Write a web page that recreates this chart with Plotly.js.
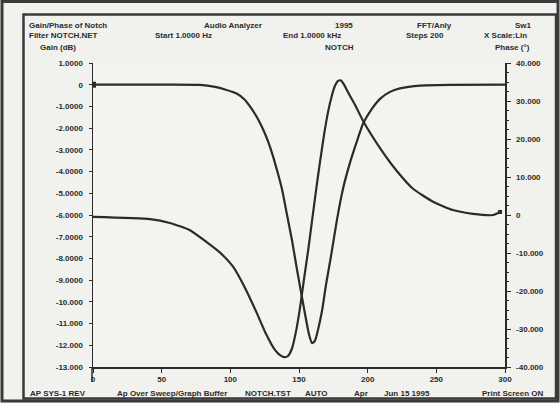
<!DOCTYPE html>
<html><head><meta charset="utf-8">
<script src="https://cdn.plot.ly/plotly-3.0.1.min.js"></script>
<style>html,body{margin:0;padding:0;background:#f1f1ed;}#c{width:560px;height:403px;}</style>
</head><body><div id="c"></div>
<script>
// Frequency (Hz) for gain curve
const gainFreq = [0, 41.5, 77.9, 88.8, 96.1, 104.9, 110.7, 114.3, 119.4, 123.8, 127.4, 131.1, 134.7, 137.6, 141.3, 145, 148.5, 152.2, 155.1, 157.3, 159.5, 161.6, 163.8, 166.8, 169.7, 173.3, 177.7, 182, 187.1, 192.2, 196.6, 203.2, 209, 216.3, 223.5, 238.1, 260, 300];
const gainDb   = [0, 0, -0.01, -0.1, -0.22, -0.42, -0.7, -1.0, -1.5, -2.05, -2.6, -3.3, -4.1, -4.8, -6.0, -7.2, -8.5, -9.8, -10.8, -11.5, -11.9, -11.8, -11.3, -10.4, -9.2, -7.9, -6.2, -4.8, -3.6, -2.6, -1.8, -1.1, -0.65, -0.33, -0.17, -0.04, -0.01, 0];
// Frequency (Hz) for phase curve
const phaseFreq = [0, 41.5, 56, 70.6, 83, 92.5, 102, 110.7, 119.4, 125.2, 132.5, 136.2, 139.1, 142, 145, 147.9, 150.7, 153.6, 156.6, 159.5, 162.4, 165.3, 168.2, 171.1, 174, 176.2, 178.4, 180.6, 182.8, 185.7, 190.8, 196.6, 209, 221.4, 233, 247.6, 262.1, 276.7, 291.3, 296.4];
const phaseDeg  = [-0.5, -1.1, -2.1, -4.0, -7.2, -9.9, -13.6, -19.2, -25.9, -30.7, -35.5, -36.9, -37.4, -37.1, -35.0, -30.5, -24.5, -17.0, -9.5, -1.5, 6.5, 14.0, 21.0, 27.0, 31.5, 34.0, 35.3, 35.4, 34.3, 32.3, 29.0, 24.8, 17.6, 11.5, 6.9, 3.5, 1.3, 0.3, 0, 0.8];

const xTickVals = [0, 50, 100, 150, 200, 250, 300];
const xTickText = ['0', '50', '100', '150', '200', '250', '300'];
const yTickVals = [1, 0, -1, -2, -3, -4, -5, -6, -7, -8, -9, -10, -11, -12, -13];
const yTickText = ['1.0000', '0', '-1.0000', '-2.0000', '-3.0000', '-4.0000', '-5.0000', '-6.0000', '-7.0000', '-8.0000', '-9.0000', '-10.000', '-11.000', '-12.000', '-13.000'];
const y2TickVals = [40, 30, 20, 10, 0, -10, -20, -30, -40];
const y2TickText = ['40.000', '30.000', '20.000', '10.000', '0', '-10.000', '-20.000', '-30.000', '-40.000'];

const headerTexts = [
  ['Gain/Phase of Notch', 27, 25], ['Audio Analyzer', 202, 25], ['1995', 333, 25], ['FFT/Anly', 415, 25], ['Sw1', 513, 25],
  ['Filter NOTCH.NET', 27, 36], ['Start 1.0000 Hz', 153, 36], ['End 1.0000 kHz', 281, 36], ['Steps 200', 404, 36], ['X Scale:Lin', 482, 36],
  ['Gain (dB)', 38, 47], ['NOTCH', 323, 47], ['Phase (°)', 493, 47]
];
const footerTexts = [
  ['AP SYS-1 REV', 28, 393], ['Ap Over Sweep/Graph Buffer', 115, 393], ['NOTCH.TST', 243, 393], ['AUTO', 303, 393],
  ['Apr', 352, 393], ['Jun 15 1995', 382, 393], ['Print Screen ON', 480, 393]
];

const L = 93, R = 505, T = 63, B = 367;
const px = x => (x - L) / (R - L);
const py = y => (B - y) / (B - T);
const ink = '#2b2b2b';

const annotations = headerTexts.concat(footerTexts).map(t => ({
  text: t[0], xref: 'paper', yref: 'paper', x: px(t[1]), y: py(t[2]),
  xanchor: 'left', yanchor: 'middle', showarrow: false,
  font: {family: 'Liberation Sans, Arial', size: 8, color: ink, weight: 'bold'}
}));

const shapes = [
  {type: 'rect', xref: 'paper', yref: 'paper', x0: px(2), x1: px(558), y0: py(401), y1: py(1.5), line: {color: '#3a3a3a', width: 3}},
  {type: 'rect', xref: 'paper', yref: 'paper', x0: px(23.5), x1: px(556), y0: py(398.5), y1: py(14.5), line: {color: '#3a3a3a', width: 2.5}},
  {type: 'line', xref: 'paper', yref: 'paper', x0: px(92), x1: px(92), y0: py(367), y1: py(382), line: {color: ink, width: 1.5}}
];

const traces = [
  {x: gainFreq, y: gainDb, type: 'scatter', mode: 'lines', line: {color: ink, width: 2.2, shape: 'spline', smoothing: 0.5}, yaxis: 'y', hoverinfo: 'skip'},
  {x: phaseFreq, y: phaseDeg, type: 'scatter', mode: 'lines', line: {color: ink, width: 2.2, shape: 'spline', smoothing: 0.5}, yaxis: 'y2', hoverinfo: 'skip'},
  {x: [gainFreq[0]], y: [gainDb[0]], type: 'scatter', mode: 'markers', marker: {symbol: 'square', size: 6, color: ink}, yaxis: 'y', hoverinfo: 'skip'},
  {x: [phaseFreq[phaseFreq.length - 1]], y: [phaseDeg[phaseDeg.length - 1]], type: 'scatter', mode: 'markers', marker: {symbol: 'square', size: 4, color: ink}, yaxis: 'y2', hoverinfo: 'skip'}
];

const tickFont = {family: 'Liberation Sans, Arial', size: 8, color: ink, weight: 'bold'};
const layout = {
  width: 560, height: 403,
  margin: {l: L, r: 560 - R, t: T, b: 403 - B, pad: 0},
  paper_bgcolor: '#f1f1ed', plot_bgcolor: '#f3f3ef',
  showlegend: false,
  xaxis: {range: [0, 300], tickmode: 'array', tickvals: xTickVals, ticktext: xTickText, showgrid: false, zeroline: false,
          showline: true, linecolor: ink, linewidth: 1.5, ticks: 'outside', ticklen: 4, tickcolor: ink, tickfont: tickFont},
  yaxis: {range: [-13, 1], tickmode: 'array', tickvals: yTickVals, ticktext: yTickText, showgrid: false, zeroline: false,
          showline: true, linecolor: ink, linewidth: 1.5, ticks: 'outside', ticklen: 3, tickcolor: ink, tickfont: tickFont, ticklabelstandoff: 4},
  yaxis2: {range: [-40, 40], overlaying: 'y', side: 'right', tickmode: 'array', tickvals: y2TickVals, ticktext: y2TickText,
           showgrid: false, zeroline: false, showline: true, linecolor: ink, linewidth: 1.5, ticks: 'outside', ticklen: 4, tickcolor: ink,
           minor: {dtick: 2.5, ticks: 'outside', ticklen: 2, tickcolor: ink, showgrid: false}, tickfont: tickFont, ticklabelstandoff: 4},
  annotations: annotations,
  shapes: shapes
};
Plotly.newPlot('c', traces, layout, {staticPlot: true, displayModeBar: false});
</script></body></html>
